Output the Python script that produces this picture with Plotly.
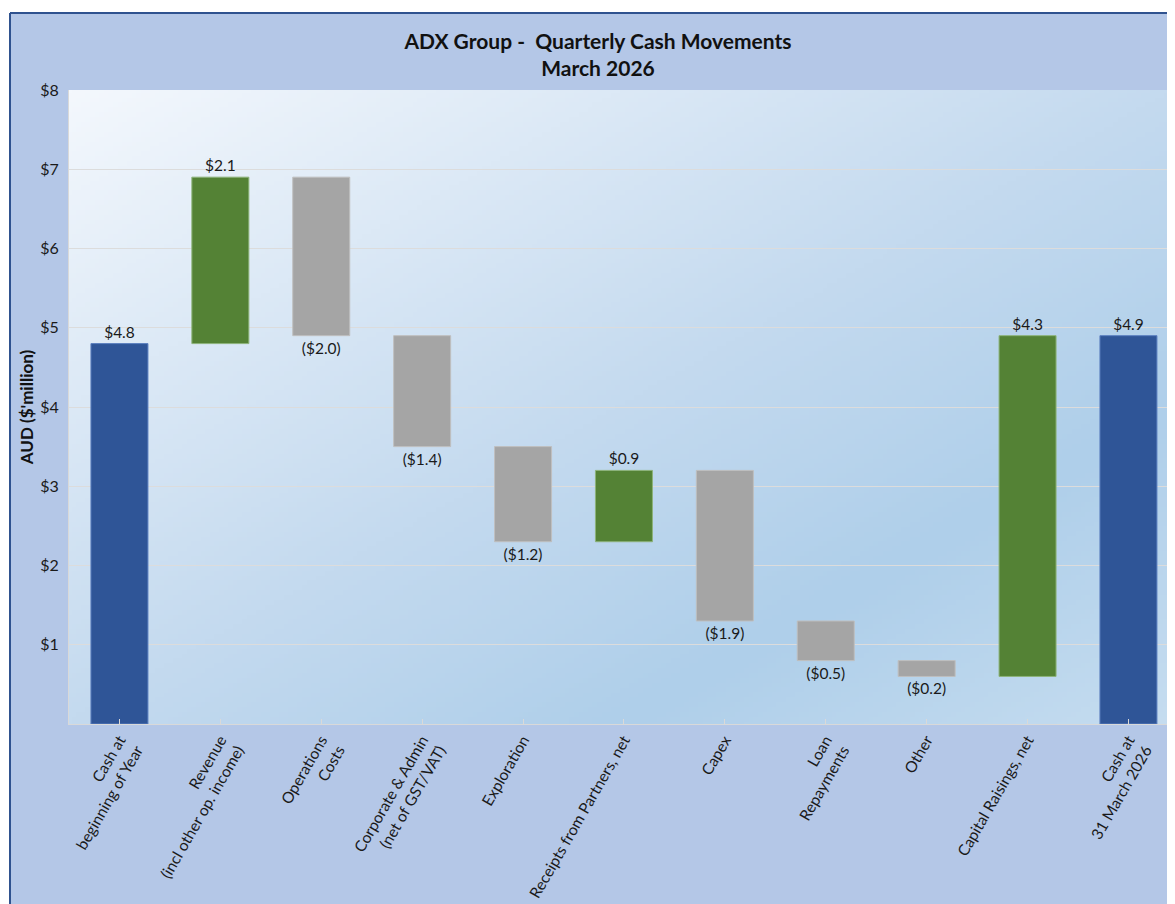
import base64
import struct
import zlib

import numpy as np
import plotly.graph_objects as go

# ---------------- data ----------------
categories = [
    "Cash at<br>beginning of Year",
    "Revenue<br>(incl other op. income)",
    "Operations<br>Costs",
    "Corporate & Admin<br>(net of GST/VAT)",
    "Exploration",
    "Receipts from Partners, net",
    "Capex",
    "Loan<br>Repayments",
    "Other",
    "Capital Raisings, net",
    "Cash at<br>31 March 2026",
]
measures = ["absolute", "relative", "relative", "relative", "relative", "relative",
            "relative", "relative", "relative", "relative", "total"]
values = [4.8, 2.1, -2.0, -1.4, -1.2, 0.9, -1.9, -0.5, -0.2, 4.3, 4.9]
value_labels = ["$4.8", "$2.1", "($2.0)", "($1.4)", "($1.2)", "$0.9", "($1.9)",
                "($0.5)", "($0.2)", "$4.3", "$4.9"]
y_tick_values = [1, 2, 3, 4, 5, 6, 7, 8]
y_tick_labels = ["$1", "$2", "$3", "$4", "$5", "$6", "$7", "$8"]

# ---------------- styling ----------------
# page has an 8px body margin, so the figure is laid out 8px offset
W, H = 1167, 896
OFF = 8
FONT = "Lato"
BLUE = "#2F5597"
GREEN = "#548235"
GREY = "#A5A5A5"
FRAME_BG = "#B4C7E7"
FRAME_LINE = "#2F528F"

ML, MR, MT = 69 - OFF, 0, 90 - OFF
MB = H - (724 - OFF)
PW, PH = W - ML - MR, H - MT - MB


def gradient_png(w, h):
    xs = np.linspace(0, 1, w)[None, :]
    ys = np.linspace(0, 1, h)[:, None]
    t = (xs + ys) / 2.0
    stops_t = [0.0, 0.5, 0.75, 1.0]
    stops_c = np.array([[244, 248, 253], [196, 218, 239], [175, 207, 234], [198, 221, 240]], float)
    img = np.zeros((h, w, 3))
    for k in range(3):
        img[:, :, k] = np.interp(t, stops_t, stops_c[:, k])
    img = img.astype(np.uint8)
    raw = b"".join(b"\x00" + img[r].tobytes() for r in range(h))

    def chunk(tag, data):
        c = struct.pack(">I", len(data)) + tag + data
        return c + struct.pack(">I", zlib.crc32(tag + data) & 0xFFFFFFFF)

    png = (b"\x89PNG\r\n\x1a\n"
           + chunk(b"IHDR", struct.pack(">IIBBBBB", w, h, 8, 2, 0, 0, 0))
           + chunk(b"IDAT", zlib.compress(raw, 9))
           + chunk(b"IEND", b""))
    return "data:image/png;base64," + base64.b64encode(png).decode()


fig = go.Figure()
fig.add_trace(go.Waterfall(
    x=list(range(len(categories))),
    y=values,
    measure=measures,
    text=value_labels,
    textposition="outside",
    textfont=dict(family=FONT, size=15.5, color="#1a1a1a"),
    cliponaxis=False,
    increasing=dict(marker=dict(color=GREEN, line=dict(color="#8DB37A", width=1))),
    decreasing=dict(marker=dict(color=GREY, line=dict(color="#BFBFBF", width=1))),
    totals=dict(marker=dict(color=BLUE, line=dict(color="#5B7FBF", width=1))),
    connector=dict(visible=False),
    width=0.565,
    hoverinfo="skip",
))

cat_px = 100.9
x_hi = -0.5 + PW / cat_px

fig.update_layout(
    width=W, height=H,
    margin=dict(l=ML, r=MR, t=MT, b=MB, pad=0, autoexpand=False),
    paper_bgcolor=FRAME_BG,
    plot_bgcolor="rgba(0,0,0,0)",
    showlegend=False,
    font=dict(family=FONT, size=15, color="#1a1a1a"),
    title=dict(
        text="<b>ADX Group -  Quarterly Cash Movements</b><br><b>March 2026</b>",
        x=(598 - OFF) / W, xanchor="center", xref="container",
        y=1 - (49 - OFF) / H, yanchor="middle", yref="container",
        font=dict(family=FONT, size=21, color="#111111"),
    ),
    xaxis=dict(
        range=[-0.5, x_hi],
        automargin=False,
        tickmode="array",
        tickvals=list(range(len(categories))),
        ticktext=categories,
        tickangle=-60,
        tickson="boundaries",
        ticks="inside", ticklen=5, tickcolor="#D9D9D9",
        showline=True, linecolor="#D9D9D9", linewidth=1,
        showgrid=False, zeroline=False,
        tickfont=dict(family=FONT, size=15.5, color="#1a1a1a"),
        fixedrange=True,
    ),
    yaxis=dict(
        range=[0, 8],
        automargin=False,
        tickmode="array",
        tickvals=y_tick_values,
        ticktext=y_tick_labels,
        showgrid=True, gridcolor="#DCDCDC", gridwidth=1,
        zeroline=False, showline=True, linecolor="#D9D9D9", linewidth=1,
        ticks="", ticklabelstandoff=6,
        tickfont=dict(family=FONT, size=16, color="#1a1a1a"),
        title=dict(text="<b>AUD ($'million)</b>", font=dict(family=FONT, size=17, color="#111111"),
                   standoff=2),
        fixedrange=True,
    ),
)

# gradient background of plot area
fig.add_layout_image(dict(
    source=gradient_png(240, 130),
    xref="paper", yref="paper", x=0, y=1, sizex=1, sizey=1,
    xanchor="left", yanchor="top", sizing="stretch", layer="below",
))

# white strips outside the chart frame (left and top) plus frame border lines
fx = (10 - OFF - ML) / PW          # frame left edge in paper coords
fy = 1 + (MT - (13 - OFF)) / PH    # frame top edge in paper coords
fig.add_shape(type="rect", xref="paper", yref="paper",
              x0=-2, x1=fx, y0=-2, y1=3,
              fillcolor="white", line=dict(width=0), layer="below")
fig.add_shape(type="rect", xref="paper", yref="paper",
              x0=-2, x1=3, y0=fy, y1=3,
              fillcolor="white", line=dict(width=0), layer="below")
fig.add_shape(type="line", xref="paper", yref="paper",
              x0=fx, x1=fx, y0=-2, y1=fy,
              line=dict(color=FRAME_LINE, width=2), layer="below")
fig.add_shape(type="line", xref="paper", yref="paper",
              x0=fx, x1=3, y0=fy, y1=fy,
              line=dict(color=FRAME_LINE, width=2), layer="below")

fig.write_html("out.html")
